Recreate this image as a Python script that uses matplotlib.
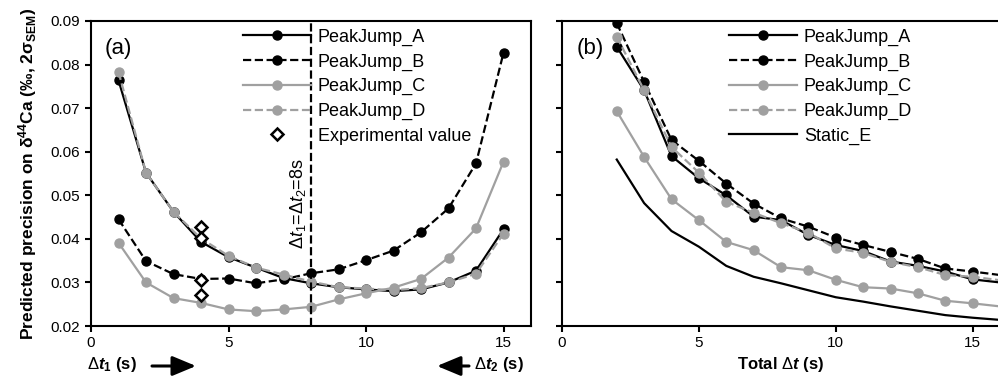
import numpy as np
import matplotlib
matplotlib.use('Agg')
import matplotlib.pyplot as plt
from matplotlib.patches import FancyArrowPatch

plt.rcParams['font.family'] = ['Liberation Sans', 'DejaVu Sans']
plt.rcParams['mathtext.fontset'] = 'custom'
plt.rcParams['mathtext.rm'] = 'Liberation Sans'
plt.rcParams['mathtext.it'] = 'Liberation Sans:italic'
plt.rcParams['mathtext.bf'] = 'Liberation Sans:bold'
plt.rcParams['mathtext.bfit'] = 'Liberation Sans:bold:italic'

# panel (a): precision vs dt1 (dt2 = 16 - dt1)
dt1 = [1, 2, 3, 4, 5, 6, 7, 8, 9, 10, 11, 12, 13, 14, 15]
pj_a = [0.0764, 0.0552, 0.0462, 0.0393, 0.0358, 0.0334, 0.0310, 0.0298,
        0.0289, 0.0284, 0.0280, 0.0284, 0.0300, 0.0327, 0.0422]
pj_b = [0.0445, 0.0349, 0.0319, 0.0308, 0.0309, 0.0298, 0.0307, 0.0321,
        0.0330, 0.0351, 0.0373, 0.0415, 0.0470, 0.0573, 0.0827]
pj_c = [0.0391, 0.0300, 0.0264, 0.0253, 0.0238, 0.0234, 0.0238, 0.0244,
        0.0261, 0.0275, 0.0288, 0.0308, 0.0357, 0.0424, 0.0577]
pj_d = [0.0783, 0.0552, 0.0462, 0.0401, 0.0361, 0.0334, 0.0318, 0.0302,
        0.0289, 0.0286, 0.0282, 0.0287, 0.0300, 0.0320, 0.0412]
exp_x = [4, 4, 4, 4]
exp_y = [0.0428, 0.0402, 0.0306, 0.0271]

# panel (b): precision vs total dt
total_dt = [2, 3, 4, 5, 6, 7, 8, 9, 10, 11, 12, 13, 14, 15, 16]
tot_a = [0.0841, 0.0741, 0.0590, 0.0539, 0.0500, 0.0451, 0.0443, 0.0409,
         0.0386, 0.0372, 0.0348, 0.0338, 0.0325, 0.0307, 0.0300]
tot_b = [0.0895, 0.0760, 0.0627, 0.0579, 0.0527, 0.0481, 0.0447, 0.0428,
         0.0403, 0.0386, 0.0370, 0.0354, 0.0332, 0.0325, 0.0317]
tot_c = [0.0693, 0.0588, 0.0491, 0.0443, 0.0393, 0.0374, 0.0335, 0.0328,
         0.0306, 0.0289, 0.0286, 0.0275, 0.0258, 0.0252, 0.0245]
tot_d = [0.0864, 0.0741, 0.0611, 0.0552, 0.0485, 0.0460, 0.0436, 0.0414,
         0.0378, 0.0368, 0.0347, 0.0335, 0.0317, 0.0313, 0.0305]
static_e = [0.0582, 0.0482, 0.0418, 0.0382, 0.0338, 0.0313, 0.0298, 0.0282,
            0.0266, 0.0256, 0.0245, 0.0235, 0.0225, 0.0219, 0.0214]

labels = ['PeakJump_A', 'PeakJump_B', 'PeakJump_C', 'PeakJump_D']
gray = '#a0a0a0'
styles = [('black', '-'), ('black', '--'), (gray, '-'), (gray, '--')]

W, H = 998, 381
fig = plt.figure(figsize=(W / 100, H / 100), dpi=100)
ax1 = fig.add_axes([91 / W, 55 / H, 440 / W, 305 / H])
ax2 = fig.add_axes([562 / W, 55 / H, 438 / W, 305 / H])

yt = np.arange(0.02, 0.0901, 0.01)
for ax in (ax1, ax2):
    ax.set_xlim(0, 16)
    ax.set_ylim(0.02, 0.09)
    ax.set_xticks([0, 5, 10, 15])
    ax.set_yticks(yt)
    ax.tick_params(direction='out', length=4, width=1.5, labelsize=11, pad=4)
    ax.tick_params(axis='x', pad=3)
    for s in ax.spines.values():
        s.set_linewidth(1.5)

ax1.set_yticklabels(['%.2f' % v for v in yt])
ax2.set_yticklabels([])

# panel (a)
for ys, lab, (c, ls) in zip([pj_a, pj_b, pj_c, pj_d], labels, styles):
    ax1.plot(dt1, ys, color=c, ls=ls, lw=1.6, marker='o', ms=6.5,
             mfc=c, mec=c, label=lab)
ax1.plot(exp_x, exp_y, ls='none', marker='D', ms=6.5, mfc='white', mec='black',
         mew=1.8, label='Experimental value')
ax1.axvline(8, color='black', ls='--', lw=1.6)
ax1.text(7.52, 0.0481, r'$\Delta t_1$=$\Delta t_2$=8s', rotation=90,
         ha='center', va='center', fontsize=13)
ax1.text(0.5, 0.0838, '(a)', fontsize=16, va='center')
ax1.legend(loc='upper left', bbox_to_anchor=(0.345, 0.975), frameon=False,
           fontsize=13, handlelength=3.8, handletextpad=0.35, borderpad=0,
           borderaxespad=0, labelspacing=0.42)

# panel (b)
for ys, lab, (c, ls) in zip([tot_a, tot_b, tot_c, tot_d], labels, styles):
    ax2.plot(total_dt, ys, color=c, ls=ls, lw=1.6, marker='o', ms=6.5,
             mfc=c, mec=c, markevery=range(14), label=lab)
ax2.plot(total_dt, static_e, color='black', lw=1.6, label='Static_E')
ax2.text(0.55, 0.0838, '(b)', fontsize=16, va='center')
ax2.legend(loc='upper left', bbox_to_anchor=(0.381, 0.975), frameon=False,
           fontsize=13, handlelength=3.8, handletextpad=0.35, borderpad=0,
           borderaxespad=0, labelspacing=0.42)
ax2.set_xlabel(r'Total $\Delta\mathbfit{t}$ (s)', fontsize=12,
               fontweight='bold', labelpad=4)

ax1.set_ylabel(r'Predicted precision on δ$^{\mathbf{44}}$Ca (‰, 2σ$_{\mathbf{SEM}}$)',
               fontsize=12.5, fontweight='bold', labelpad=8)

# x labels for panel (a) with arrows
fig.text(87 / W, 1 - 365 / H, r'$\Delta\mathbfit{t}_\mathbf{1}$ (s)',
         fontsize=12, fontweight='bold', va='center', ha='left')
fig.text(474 / W, 1 - 365 / H, r'$\Delta\mathbfit{t}_\mathbf{2}$ (s)',
         fontsize=12, fontweight='bold', va='center', ha='left')
for x0, x1 in [(152, 196), (469, 437)]:
    fig.add_artist(FancyArrowPatch(
        (x0 / W, 1 - 366 / H), (x1 / W, 1 - 366 / H),
        transform=fig.transFigure, mutation_scale=12,
        arrowstyle='-|>,head_length=1.2,head_width=0.5', color='black',
        lw=2.2, shrinkA=0, shrinkB=0))

fig.savefig('out.png', dpi=100)
